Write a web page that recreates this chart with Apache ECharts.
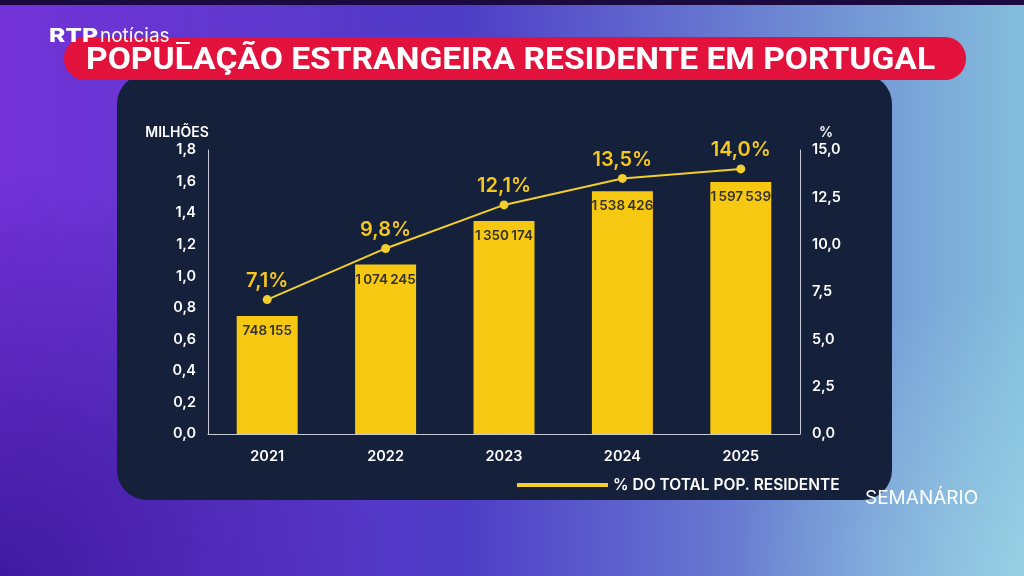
<!DOCTYPE html>
<html>
<head>
<meta charset="utf-8">
<script src="https://cdn.jsdelivr.net/npm/echarts@6/dist/echarts.min.js"></script>
<style>
  html, body { margin: 0; padding: 0; }
  #main { width: 1024px; height: 576px; }
</style>
</head>
<body>
<div id="main"></div>
<script>
// dados do gráfico
const anos = ['2021', '2022', '2023', '2024', '2025'];
const residentes = [748155, 1074245, 1350174, 1538426, 1597539];
const percentagem = [7.1, 9.8, 12.1, 13.5, 14.0];
const ticksMilhoes = ['0,0', '0,2', '0,4', '0,6', '0,8', '1,0', '1,2', '1,4', '1,6', '1,8'];
const ticksPct = ['0,0', '2,5', '5,0', '7,5', '10,0', '12,5', '15,0'];

// separador de milhares com espaço fino
function fmtNum(n) {
    return String(n).replace(/\B(?=(\d{3})+(?!\d))/g, '\u2009');
}

let myChart = echarts.init(document.getElementById('main'));

let option = {
    animation: false,
    textStyle: { fontFamily: 'Inter, Roboto, sans-serif' },
    graphic: [
        // fundo
        {
            type: 'rect', z: -10, silent: true,
            shape: { x: 0, y: 0, width: 1024, height: 576 },
            style: {
                fill: new echarts.graphic.LinearGradient(0, 0, 1, 0, [
                    { offset: 0, color: '#7332d8' },
                    { offset: 0.45, color: '#4e3cc6' },
                    { offset: 1, color: '#84bedc' }
                ])
            }
        },
        {
            type: 'rect', z: -9, silent: true,
            shape: { x: 0, y: 0, width: 1024, height: 576 },
            style: {
                fill: new echarts.graphic.RadialGradient(0, 1, 0.7, [
                    { offset: 0, color: 'rgba(45,18,140,0.75)' },
                    { offset: 1, color: 'rgba(45,18,140,0)' }
                ])
            }
        },
        {
            type: 'rect', z: -9, silent: true,
            shape: { x: 0, y: 0, width: 1024, height: 576 },
            style: {
                fill: new echarts.graphic.RadialGradient(1, 1, 0.5, [
                    { offset: 0, color: 'rgba(170,225,235,0.5)' },
                    { offset: 1, color: 'rgba(170,225,235,0)' }
                ])
            }
        },
        {
            type: 'rect', z: -9, silent: true,
            shape: { x: 0, y: 0, width: 1024, height: 5 },
            style: { fill: '#1a0a40' }
        },
        // painel escuro
        {
            type: 'rect', z: -5, silent: true,
            shape: { x: 117, y: 74, width: 775, height: 426, r: 30 },
            style: { fill: '#15203a' }
        },
        // faixa do título
        {
            type: 'rect', z: 5, silent: true,
            shape: { x: 64, y: 37, width: 902, height: 43, r: 21 },
            style: { fill: '#e2123c' }
        },
        {
            type: 'text', z: 6, silent: true,
            left: 86, top: 45, scaleX: 1.05,
            style: {
                text: 'POPULAÇÃO ESTRANGEIRA RESIDENTE EM PORTUGAL',
                fill: '#ffffff',
                font: 'bold 32px Roboto, sans-serif'
            }
        },
        // logótipo RTP
        {
            type: 'text', z: 7, silent: true,
            left: 49, top: 27, scaleX: 1.3,
            style: { text: 'RTP', fill: '#ffffff', font: '800 19px Inter, sans-serif' }
        },
        {
            type: 'text', z: 7, silent: true,
            left: 100, top: 27,
            style: { text: 'notícias', fill: '#ffffff', font: '19px Inter, sans-serif' }
        },
        {
            type: 'rect', z: 7, silent: true,
            shape: { x: 176, y: 42, width: 14, height: 2 },
            style: { fill: '#ffffff' }
        },
        {
            type: 'text', z: 7, silent: true,
            left: 865, top: 489,
            style: { text: 'SEMANÁRIO', fill: '#ffffff', font: '19px Inter, sans-serif' }
        }
    ],
    legend: {
        data: ['% DO TOTAL POP. RESIDENTE'],
        left: 512,
        top: 472,
        icon: 'rect',
        itemWidth: 91,
        itemHeight: 4,
        itemGap: 9,
        textStyle: { color: '#ffffff', fontSize: 15.5, fontWeight: 600 }
    },
    grid: { left: 208, right: 224, top: 150, bottom: 142 },
    xAxis: {
        type: 'category',
        data: anos,
        axisLine: { lineStyle: { color: '#c3cad8', width: 1 } },
        axisTick: { show: false },
        axisLabel: { color: '#ffffff', fontSize: 14.5, fontWeight: 600, margin: 15 }
    },
    yAxis: [
        {
            type: 'value',
            name: 'MILHÕES',
            nameLocation: 'end',
            nameGap: 10,
            nameTextStyle: { color: '#ffffff', fontSize: 14, fontWeight: 600, align: 'center', padding: [0, 0, 0, -62] },
            min: 0, max: 1.8, interval: 0.2,
            axisLine: { show: true, lineStyle: { color: '#c3cad8', width: 1 } },
            axisTick: { show: false },
            splitLine: { show: false },
            axisLabel: {
                color: '#ffffff', fontSize: 14.5, fontWeight: 600, margin: 12,
                formatter: function (v) { return ticksMilhoes[Math.round(v / 0.2)]; }
            }
        },
        {
            type: 'value',
            name: '%',
            nameLocation: 'end',
            nameGap: 10,
            nameTextStyle: { color: '#ffffff', fontSize: 14, fontWeight: 600, padding: [0, 0, 0, 52] },
            min: 0, max: 15, interval: 2.5,
            axisLine: { show: true, lineStyle: { color: '#c3cad8', width: 1 } },
            axisTick: { show: false },
            splitLine: { show: false },
            axisLabel: {
                color: '#ffffff', fontSize: 14.5, fontWeight: 600, margin: 12,
                formatter: function (v) { return ticksPct[Math.round(v / 2.5)]; }
            }
        }
    ],
    series: [
        {
            name: 'Residentes',
            type: 'bar',
            yAxisIndex: 0,
            barWidth: 61,
            data: residentes.map(v => v / 1e6),
            itemStyle: { color: '#f6c811' },
            label: {
                show: true,
                position: 'insideTop',
                distance: 8,
                color: '#33322c',
                fontSize: 13.5,
                fontWeight: 600,
                formatter: function (p) { return fmtNum(residentes[p.dataIndex]); }
            }
        },
        {
            name: '% DO TOTAL POP. RESIDENTE',
            type: 'line',
            yAxisIndex: 1,
            data: percentagem,
            symbol: 'circle',
            symbolSize: 9,
            itemStyle: { color: '#f2cf2c' },
            lineStyle: { color: '#f2cf2c', width: 2 },
            label: {
                show: true,
                position: 'top',
                distance: 4,
                color: '#f6c81c',
                fontSize: 20,
                fontWeight: 600,
                formatter: function (p) { return p.value.toFixed(1).replace('.', ',') + '%'; }
            }
        }
    ]
};

myChart.setOption(option);
</script>
</body>
</html>
